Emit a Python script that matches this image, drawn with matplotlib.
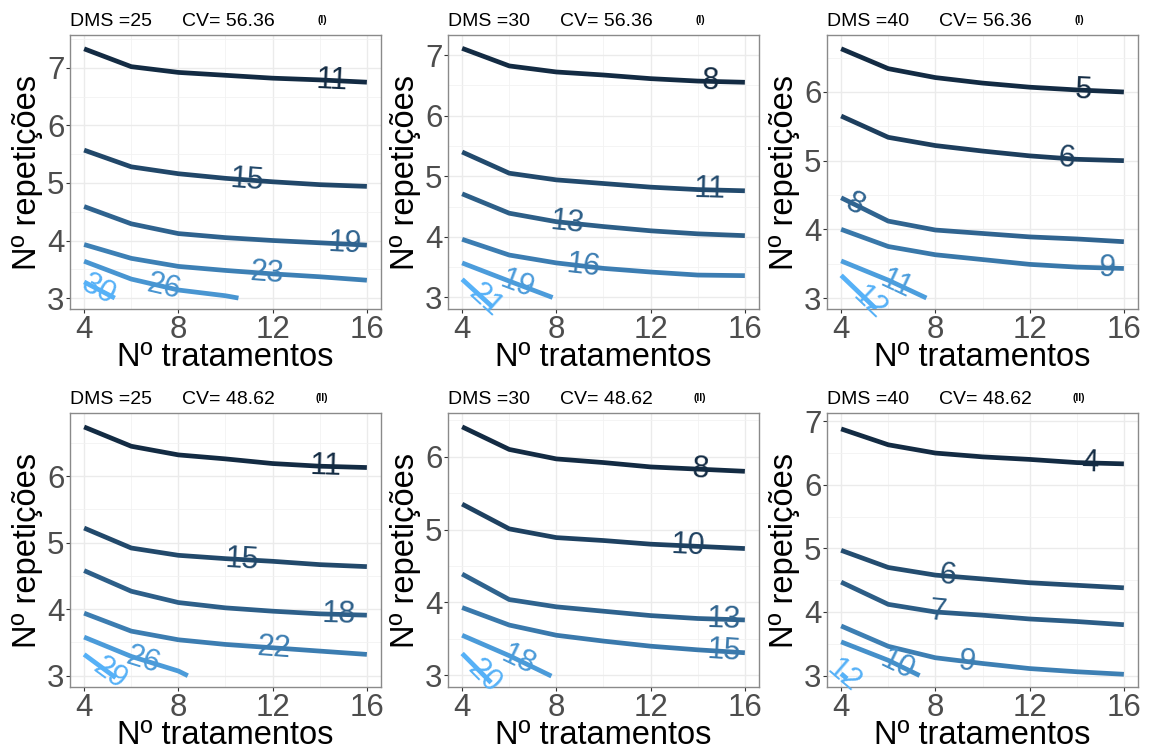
import numpy as np
import matplotlib
matplotlib.use("Agg")
import matplotlib.pyplot as plt
from matplotlib.colors import to_rgb

plt.rcParams['font.family'] = ['Liberation Sans', 'DejaVu Sans']

# grid of number of treatments where the curves were computed
trat = [4, 6, 8, 10, 12, 14, 16]

# panel headers
dms = [25, 30, 40, 25, 30, 40]
cv = ["56.36", "56.36", "56.36", "48.62", "48.62", "48.62"]
tag = ["(I)", "(I)", "(I)", "(II)", "(II)", "(II)"]

# contour levels, y values at trat (shorter list when the curve leaves
# the grid), end point of short curves and label x position
lev1 = [11, 15, 19, 23, 26, 30]
rep1 = [[7.33, 7.02, 6.92, 6.87, 6.82, 6.79, 6.75],
        [5.57, 5.28, 5.16, 5.08, 5.02, 4.97, 4.94],
        [4.59, 4.29, 4.12, 4.05, 4.00, 3.96, 3.92],
        [3.93, 3.69, 3.55, 3.48, 3.42, 3.37, 3.31],
        [3.64, 3.33, 3.14, 3.04],
        [3.28]]
end1 = [None, None, None, None, (10.55, 3.0), (5.3, 3.0)]
labx1 = [14.5, 10.9, 15.05, 11.75, 7.4, 4.6]

lev2 = [8, 11, 13, 16, 19, 21]
rep2 = [[7.11, 6.82, 6.72, 6.67, 6.61, 6.57, 6.55],
        [5.40, 5.05, 4.94, 4.88, 4.82, 4.78, 4.76],
        [4.71, 4.39, 4.25, 4.17, 4.10, 4.05, 4.02],
        [3.96, 3.70, 3.57, 3.48, 3.42, 3.37, 3.36],
        [3.57, 3.27],
        [3.30]]
end2 = [None, None, None, None, (7.84, 3.0), (5.3, 2.84)]
labx2 = [14.55, 14.5, 8.45, 9.15, 6.35, 5.0]

lev3 = [5, 6, 8, 9, 11, 12]
rep3 = [[6.63, 6.34, 6.21, 6.13, 6.07, 6.03, 6.00],
        [5.65, 5.34, 5.22, 5.14, 5.07, 5.02, 5.00],
        [4.46, 4.12, 3.99, 3.94, 3.89, 3.86, 3.82],
        [4.00, 3.75, 3.63, 3.56, 3.49, 3.45, 3.43],
        [3.54, 3.26],
        [3.33]]
end3 = [None, None, None, None, (7.62, 3.0), (5.49, 2.84)]
labx3 = [14.3, 13.55, 4.57, 15.3, 6.35, 5.2]

lev4 = [11, 15, 18, 22, 26, 29]
rep4 = [[6.74, 6.45, 6.32, 6.26, 6.19, 6.15, 6.13],
        [5.22, 4.92, 4.81, 4.76, 4.72, 4.67, 4.64],
        [4.58, 4.27, 4.10, 4.02, 3.97, 3.93, 3.91],
        [3.94, 3.67, 3.54, 3.47, 3.42, 3.37, 3.32],
        [3.58, 3.29, 3.07],
        [3.32]]
end4 = [None, None, None, None, (8.4, 3.0), (5.34, 2.97)]
labx4 = [14.25, 10.7, 14.8, 12.05, 6.5, 5.1]

lev5 = [8, 10, 13, 15, 18, 20]
rep5 = [[6.41, 6.10, 5.97, 5.92, 5.86, 5.83, 5.80],
        [5.35, 5.01, 4.89, 4.85, 4.80, 4.77, 4.74],
        [4.39, 4.04, 3.94, 3.88, 3.82, 3.78, 3.76],
        [3.93, 3.69, 3.55, 3.47, 3.40, 3.35, 3.31],
        [3.55, 3.27],
        [3.30]]
end5 = [None, None, None, None, (7.79, 2.99), (5.23, 2.9)]
labx5 = [14.1, 13.6, 15.1, 15.1, 6.4, 4.95]

lev6 = [4, 6, 7, 9, 10, 12]
rep6 = [[6.88, 6.63, 6.50, 6.44, 6.40, 6.35, 6.33],
        [4.97, 4.70, 4.58, 4.52, 4.46, 4.42, 4.38],
        [4.47, 4.12, 4.00, 3.95, 3.89, 3.85, 3.80],
        [3.78, 3.46, 3.28, 3.19, 3.11, 3.06, 3.02],
        [3.53, 3.24],
        [3.03]]
end6 = [None, None, None, None, (7.33, 3.0), (4.25, 2.95)]
labx6 = [14.55, 8.5, 8.1, 9.35, 6.4, 4.12]

ylims = [(2.81, 7.57), (2.81, 7.33), (2.84, 6.83),
         (2.83, 6.95), (2.84, 6.60), (2.82, 7.13)]

levels = [lev1, lev2, lev3, lev4, lev5, lev6]
reps = [rep1, rep2, rep3, rep4, rep5, rep6]
ends = [end1, end2, end3, end4, end5, end6]
labxs = [labx1, labx2, labx3, labx4, labx5, labx6]

W, H = 1150, 756
fig = plt.figure(figsize=(W / 100, H / 100), dpi=100)

lefts = [70, 448, 827]
tops = [35, 413]
pw, ph = 311, 274

dark = np.array(to_rgb('#132B43'))
light = np.array(to_rgb('#56B1F7'))


def curve(ys, end):
    xs = list(trat[:len(ys)])
    ys = list(ys)
    if end is not None:
        xs.append(end[0])
        ys.append(end[1])
    return np.array(xs, float), np.array(ys, float)


for i in range(6):
    r, c = divmod(i, 3)
    ax = fig.add_axes([lefts[c] / W, 1 - (tops[r] + ph) / H, pw / W, ph / H])
    ax.set_xlim(3.4, 16.6)
    ax.set_ylim(*ylims[i])
    ax.set_xticks([4, 8, 12, 16])
    ax.set_xticks([6, 10, 14], minor=True)
    yt = [v for v in range(3, 8) if ylims[i][0] <= v <= ylims[i][1]]
    ax.set_yticks(yt)
    ax.set_yticks([v + 0.5 for v in range(2, 8)
                   if ylims[i][0] <= v + 0.5 <= ylims[i][1]], minor=True)
    ax.grid(which='major', color='#EBEBEB', lw=1.0)
    ax.grid(which='minor', color='#F2F2F2', lw=0.6)
    ax.set_axisbelow(True)
    for s in ax.spines.values():
        s.set_color('#8a8a8a')
        s.set_linewidth(1.0)
    ax.tick_params(which='major', length=3, width=0.8, color='#333333',
                   labelsize=22.5, labelcolor='#4D4D4D')
    ax.tick_params(axis='x', pad=1)
    ax.tick_params(axis='y', pad=1)
    ax.tick_params(which='minor', length=0)

    lv = levels[i]
    lo, hi = min(lv), max(lv)
    fig.canvas.draw()
    for k, v in enumerate(lv):
        t = (v - lo) / (hi - lo)
        col = dark + (light - dark) * t
        xs, ys = curve(reps[i][k], ends[i][k])
        ax.plot(xs, ys, color=col, lw=3.4, solid_capstyle='butt', zorder=3)
        # label follows the local slope of the curve on screen
        lx = labxs[i][k]
        ly = np.interp(lx, xs, ys)
        x0, x1 = max(xs[0], lx - 0.3), min(xs[-1], lx + 0.3)
        p0 = ax.transData.transform((x0, np.interp(x0, xs, ys)))
        p1 = ax.transData.transform((x1, np.interp(x1, xs, ys)))
        ang = np.degrees(np.arctan2(p1[1] - p0[1], p1[0] - p0[0]))
        ax.text(lx, ly, str(v), color=col, fontsize=22, ha='center',
                va='center', rotation=ang, rotation_mode='anchor', zorder=4)

    ax.set_xlabel('Nº tratamentos', fontsize=23.5, color='black')
    ax.set_ylabel('Nº repetições', fontsize=23.5, color='black')
    ax.xaxis.set_label_coords(0.5, -0.122)
    ax.yaxis.set_label_coords(-0.087, 0.5)

    ax.text(0.0, 1.048, 'DMS =%d' % dms[i], transform=ax.transAxes,
            fontsize=14, ha='left', va='center')
    ax.text(0.36, 1.048, 'CV= %s' % cv[i], transform=ax.transAxes,
            fontsize=14, ha='left', va='center')
    ax.text(0.81, 1.055, tag[i], transform=ax.transAxes, fontsize=7.5,
            fontweight='bold', ha='center', va='center')

fig.savefig('out.png', dpi=100)
